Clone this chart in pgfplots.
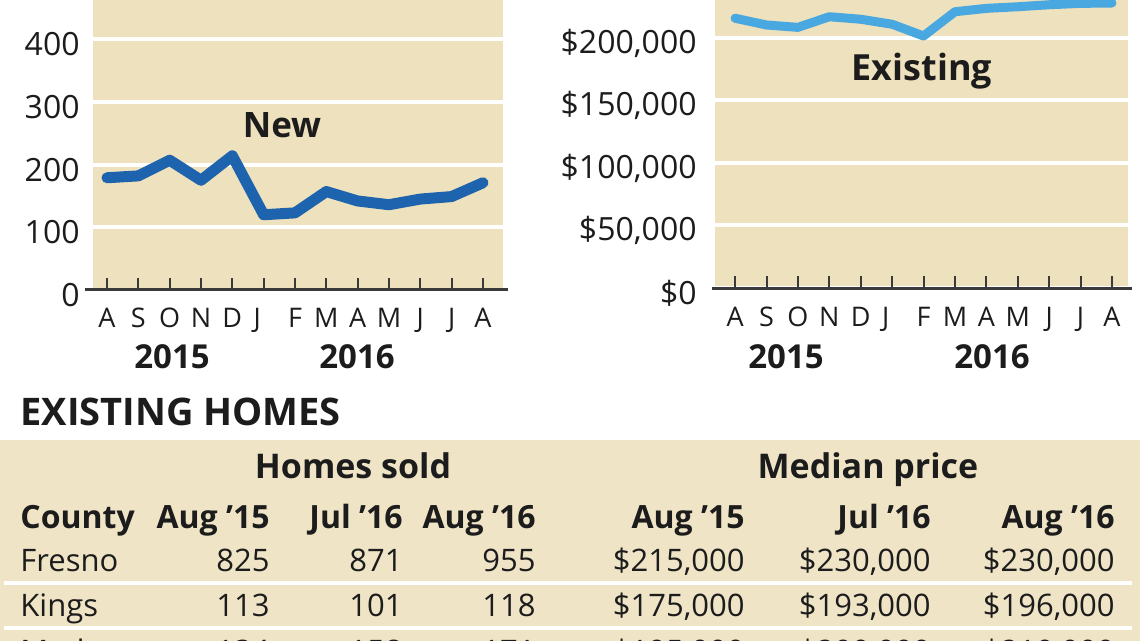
\documentclass[border=0pt]{standalone}
\usepackage{pgfplots}
\pgfplotsset{compat=1.18}
\usepackage{fontspec}
\setmainfont{Open Sans}
\definecolor{tan}{HTML}{EEE1BD}
\definecolor{tanT}{HTML}{EFE4C6}
\definecolor{dblue}{HTML}{1E63AE}
\definecolor{lblue}{HTML}{4AA8E0}
\definecolor{ink}{HTML}{1C1C1C}
\definecolor{axln}{HTML}{3A3A3A}

% one table row: y, county, three counts, three prices, font
\newcommand\trow[9]{%
  \node[anchor=base west, inner sep=0pt, text=ink, font=#9] at (10pt,#1) {#2};
  \node[anchor=base east, inner sep=0pt, text=ink, font=#9] at (135pt,#1) {#3};
  \node[anchor=base east, inner sep=0pt, text=ink, font=#9] at (201.5pt,#1) {#4};
  \node[anchor=base east, inner sep=0pt, text=ink, font=#9] at (268pt,#1) {#5};
  \node[anchor=base east, inner sep=0pt, text=ink, font=#9] at (372.5pt,#1) {#6};
  \node[anchor=base east, inner sep=0pt, text=ink, font=#9] at (465.5pt,#1) {#7};
  \node[anchor=base east, inner sep=0pt, text=ink, font=#9] at (557.5pt,#1) {#8};
}

\pgfplotsset{chartstyle/.style={
  scale only axis, clip=false, ymin=0,
  axis line style={draw=none},
  axis background/.style={fill=tan},
  tick pos=left, tick align=inside, major tick length=6pt,
  xtick={0,...,12},
  xticklabels={A,S,O,N,D,{\makebox[10pt][l]{J}},F,M,A,M,J,J,A},
  xtick style={draw=axln, line width=1pt},
  ytick style={draw=none},
  ymajorgrids, major grid style={white, line width=2pt},
  xticklabel style={anchor=base, inner sep=0pt, font=\fontsize{13.5}{15}\selectfont, text=ink},
  yticklabel style={anchor=east, inner sep=0pt, font=\fontsize{16}{19}\selectfont, text=ink},
}}

\begin{document}
\begin{tikzpicture}
\useasboundingbox (0,0) rectangle (570pt,-320.5pt);

% left chart: new homes sold
\begin{axis}[chartstyle, at={(46.5pt,-145pt)}, anchor=south west,
  width=205pt, height=145pt, xmin=-0.447, xmax=12.64, ymax=462.5,
  ytick={0,100,200,300,400}, yticklabels={0,100,200,300,400},
  yticklabel style={xshift=-6.5pt, yshift=-2.5pt},
  xticklabel style={yshift=-19pt}]
\addplot[dblue, line width=5.5pt, line join=round, line cap=round] coordinates {
 (0,179)(1,182)(2,207)(3,175)(4,214)(5,120)(6,123)(7,157)(8,142)(9,136)(10,145)(11,149)(12,171)};
\draw[axln, line width=1.5pt] (axis cs:-0.71,0) -- (axis cs:12.8,0);
\end{axis}

% right chart: median price, existing homes
\begin{axis}[chartstyle, at={(357.5pt,-144pt)}, anchor=south west,
  width=206.5pt, height=144pt, xmin=-0.64, xmax=12.51, ymax=230400,
  ytick={0,50000,100000,150000,200000},
  yticklabels={\$0,{\$50,000},{\$100,000},{\$150,000},{\$200,000}},
  yticklabel style={xshift=-9pt, yshift=-2.5pt},
  xticklabel style={yshift=-19.5pt}]
\addplot[lblue, line width=4.5pt, line join=round, line cap=round] coordinates {
 (0,215800)(1,210400)(2,208500)(3,217000)(4,215000)(5,211000)(6,201600)(7,221000)(8,223700)(9,225000)(10,226600)(11,227700)(12,228000)};
\draw[axln, line width=1.5pt] (axis cs:-0.73,0) -- (axis cs:12.64,0);
\end{axis}

% chart labels
\node[font=\fontsize{17.5}{20}\selectfont\bfseries, text=ink] at (141pt,-62.5pt) {New};
\node[font=\fontsize{18}{21}\selectfont\bfseries, text=ink] at (461pt,-35.5pt) {Existing};
\foreach \x/\t in {86/2015,178.5/2016,393/2015,496/2016}
  \node[font=\fontsize{16.5}{19}\selectfont\bfseries, text=ink] at (\x pt,-178.5pt) {\t};

% table
\node[anchor=base west, inner sep=0pt, text=ink, font=\fontsize{19}{22}\selectfont\bfseries] at (10pt,-212.5pt) {EXISTING HOMES};
\fill[tanT] (0,-220pt) rectangle (570pt,-330pt);
\draw[white, line width=2pt] (2pt,-291.5pt) -- (566pt,-291.5pt);
\draw[white, line width=2pt] (2pt,-314pt) -- (566pt,-314pt);
\node[anchor=base, inner sep=0pt, text=ink, font=\fontsize{17}{20}\selectfont\bfseries] at (176.5pt,-239pt) {Homes sold};
\node[anchor=base, inner sep=0pt, text=ink, font=\fontsize{17}{20}\selectfont\bfseries] at (434pt,-239pt) {Median price};
\trow{-264pt}{County}{Aug '15}{Jul '16}{Aug '16}{Aug '15}{Jul '16}{Aug '16}{\fontsize{16}{19}\selectfont\bfseries}
\trow{-285.5pt}{Fresno}{825}{871}{955}{\$215,000}{\$230,000}{\$230,000}{\fontsize{15.5}{18}\selectfont}
\trow{-308pt}{Kings}{113}{101}{118}{\$175,000}{\$193,000}{\$196,000}{\fontsize{15.5}{18}\selectfont}
\trow{-331.3pt}{Madera}{134}{158}{171}{\$195,000}{\$200,000}{\$210,000}{\fontsize{15.5}{18}\selectfont}
\end{tikzpicture}
\end{document}
